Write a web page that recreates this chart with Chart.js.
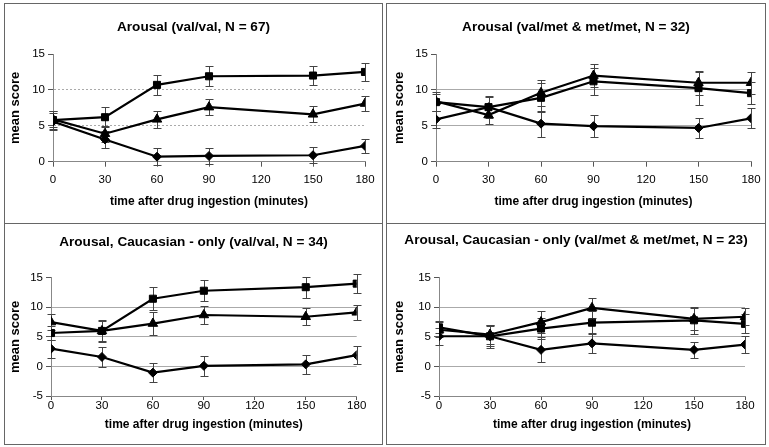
<!DOCTYPE html>
<html>
<head>
<meta charset="utf-8">
<script src="https://cdn.jsdelivr.net/npm/chart.js@4.4.0/dist/chart.umd.min.js"></script>
<style>
  html, body { margin: 0; padding: 0; background: #fff; }
  body { width: 769px; height: 447px; position: relative; overflow: hidden; }
  .panel { position: absolute; box-sizing: border-box; border: 1px solid #666; background: #fff; }
  .panel canvas { display: block; }
</style>
</head>
<body>
<div class="panel" style="left:4px;top:3px;width:379px;height:221px"><canvas id="c1" width="377" height="219"></canvas></div>
<div class="panel" style="left:386px;top:3px;width:380px;height:221px"><canvas id="c2" width="378" height="219"></canvas></div>
<div class="panel" style="left:4px;top:223px;width:379px;height:222px"><canvas id="c3" width="377" height="220"></canvas></div>
<div class="panel" style="left:386px;top:223px;width:380px;height:222px"><canvas id="c4" width="378" height="220"></canvas></div>
<script>
// time points (minutes after ingestion)
const minutes = [0, 30, 60, 90, 150, 180];
const yTicksTop = [0, 5, 10, 15];
const yTicksBottom = [-5, 0, 5, 10, 15];

const titles = [
  "Arousal (val/val, N = 67)",
  "Arousal (val/met & met/met, N = 32)",
  "Arousal, Caucasian - only (val/val, N = 34)",
  "Arousal, Caucasian - only (val/met & met/met, N = 23)",
];

// panel 1
const p1Square = [5.8, 6.2, 10.7, 11.9, 12.0, 12.5];
const p1SquareErr = [1.2, 1.4, 1.35, 1.4, 1.3, 1.3];
const p1Triangle = [5.9, 3.9, 5.9, 7.6, 6.6, 8.1];
const p1TriangleErr = [1.1, 1.1, 1.2, 1.1, 1.1, 1.0];
const p1Diamond = [5.6, 3.1, 0.7, 0.8, 0.9, 2.2];
const p1DiamondErr = [1.2, 1.2, 1.15, 1.1, 1.15, 1.0];

// panel 2
const p2Square = [8.3, 7.6, 8.9, 11.2, 10.25, 9.55];
const p2SquareErr = [1.2, 1.4, 2.0, 1.9, 2.3, 1.5];
const p2Triangle = [8.4, 6.5, 9.6, 12.0, 11.0, 11.0];
const p2TriangleErr = [1.3, 1.3, 1.8, 1.6, 1.7, 1.55];
const p2Diamond = [5.9, 7.6, 5.3, 4.95, 4.7, 6.05];
const p2DiamondErr = [1.2, 1.5, 1.8, 1.5, 1.4, 1.4];

// panel 3
const p3Square = [5.65, 6.0, 11.45, 12.8, 13.4, 14.0];
const p3SquareErr = [1.2, 1.8, 1.95, 1.8, 1.8, 1.6];
const p3Triangle = [7.5, 6.0, 7.25, 8.7, 8.4, 9.15];
const p3TriangleErr = [1.3, 1.7, 1.9, 1.6, 1.4, 1.3];
const p3Diamond = [3.0, 1.6, -1.05, 0.1, 0.35, 1.9];
const p3DiamondErr = [1.5, 1.75, 1.6, 1.65, 1.55, 1.5];

// panel 4
const p4Square = [6.6, 5.1, 6.4, 7.4, 7.8, 7.2];
const p4SquareErr = [1.0, 1.9, 1.8, 2.0, 2.3, 1.6];
const p4Triangle = [6.2, 5.4, 7.5, 9.9, 8.05, 8.4];
const p4TriangleErr = [1.3, 1.6, 1.9, 1.65, 1.9, 1.4];
const p4Diamond = [5.1, 5.1, 2.8, 3.9, 2.8, 3.7];
const p4DiamondErr = [1.4, 1.7, 2.1, 1.7, 1.3, 1.5];

const FONT = "'Liberation Sans', Arial, sans-serif";

// vertical error bars with caps, drawn under the lines
const errorBars = {
  id: "errorBars",
  beforeDatasetsDraw(chart) {
    const { ctx } = chart;
    const y = chart.scales.y;
    ctx.save();
    ctx.strokeStyle = "#444";
    ctx.lineWidth = 1;
    chart.data.datasets.forEach((ds, i) => {
      chart.getDatasetMeta(i).data.forEach((pt, j) => {
        const v = ds.data[j].y;
        const e = ds.err[j];
        const top = Math.round(y.getPixelForValue(v + e)) + 0.5;
        const bot = Math.round(y.getPixelForValue(v - e)) + 0.5;
        const x = Math.round(pt.x) + 0.5;
        ctx.beginPath();
        ctx.moveTo(x, top); ctx.lineTo(x, bot);
        ctx.moveTo(x - 4, top); ctx.lineTo(x + 4, top);
        ctx.moveTo(x - 4, bot); ctx.lineTo(x + 4, bot);
        ctx.stroke();
      });
    });
    ctx.restore();
  },
};

function drawPanel(id, p) {
  const yMin = p.yTicks[0];
  const yMax = p.yTicks[p.yTicks.length - 1];
  const series = [
    { vals: p.square, err: p.squareErr, style: "rect", r: 5 },
    { vals: p.triangle, err: p.triangleErr, style: "triangle", r: 5.5 },
    { vals: p.diamond, err: p.diamondErr, style: "rectRot", r: 4.5 },
  ];

  new Chart(document.getElementById(id), {
    type: "line",
    data: {
      datasets: series.map((s) => ({
        data: s.vals.map((v, i) => ({ x: minutes[i], y: v })),
        err: s.err,
        borderColor: "#000",
        backgroundColor: "#000",
        borderWidth: 2.2,
        pointStyle: s.style,
        pointRadius: s.r,
        pointBorderWidth: 1,
        tension: 0,
      })),
    },
    options: {
      responsive: false,
      animation: false,
      devicePixelRatio: 1,
      layout: { padding: 0 },
      plugins: {
        legend: { display: false },
        tooltip: { enabled: false },
        title: {
          display: true,
          text: p.title,
          color: "#000",
          font: { family: FONT, size: 13.6, weight: "bold" },
          padding: { top: p.titleTop, bottom: p.titleBottom },
        },
      },
      scales: {
        x: {
          type: "linear",
          min: 0,
          max: 180,
          ticks: {
            stepSize: 30,
            color: "#000",
            font: { family: FONT, size: 11.5, lineHeight: 1 },
            padding: p.xTickPad,
            maxRotation: 0,
            autoSkip: false,
          },
          grid: { drawOnChartArea: false, tickLength: p.xTickLen, tickColor: "#555" },
          border: { color: "#888", width: 1 },
          title: {
            display: true,
            text: "time after drug ingestion (minutes)",
            color: "#000",
            font: { family: FONT, size: 12, weight: "bold" },
            padding: { top: 0, bottom: p.xTitleBottom },
          },
          afterFit(s) {
            s.height = p.xHeight;
            s.paddingRight = p.rightPad;
          },
        },
        y: {
          min: yMin,
          max: yMax,
          ticks: {
            stepSize: 5,
            color: "#000",
            font: { family: FONT, size: 11.5, lineHeight: 1 },
            padding: 3,
          },
          grid: {
            color: (c) => (c.tick && c.tick.value === yMax ? "rgba(0,0,0,0)" : p.gridColor),
            tickColor: "#555",
            tickLength: 5,
            tickBorderDash: [],
          },
          border: { color: "#888", width: 1, dash: p.gridDash },
          title: {
            display: true,
            text: "mean score",
            color: "#000",
            font: { family: FONT, size: 13, weight: "bold" },
            padding: { top: p.yTitleTop, bottom: 0 },
          },
          afterFit(s) {
            s.width = p.yWidth;
          },
        },
      },
    },
    plugins: [errorBars],
  });
}

drawPanel("c1", {
  title: titles[0], yTicks: yTicksTop,
  square: p1Square, squareErr: p1SquareErr,
  triangle: p1Triangle, triangleErr: p1TriangleErr,
  diamond: p1Diamond, diamondErr: p1DiamondErr,
  titleTop: 15.2, titleBottom: 18.5, yWidth: 48, xHeight: 61.3, rightPad: 17,
  xTickLen: 5, xTickPad: 7.6, xTitleBottom: 13.8, yTitleTop: 2.2,
  gridColor: "#aaa", gridDash: [2, 2],
});

drawPanel("c2", {
  title: titles[1], yTicks: yTicksTop,
  square: p2Square, squareErr: p2SquareErr,
  triangle: p2Triangle, triangleErr: p2TriangleErr,
  diamond: p2Diamond, diamondErr: p2DiamondErr,
  titleTop: 15.2, titleBottom: 18.5, yWidth: 49, xHeight: 61.3, rightPad: 14,
  xTickLen: 5, xTickPad: 7.6, xTitleBottom: 13.8, yTitleTop: 4.2,
  gridColor: "#aaa", gridDash: [],
});

drawPanel("c3", {
  title: titles[2], yTicks: yTicksBottom,
  square: p3Square, squareErr: p3SquareErr,
  triangle: p3Triangle, triangleErr: p3TriangleErr,
  diamond: p3Diamond, diamondErr: p3DiamondErr,
  titleTop: 10.2, titleBottom: 27.2, yWidth: 46, xHeight: 48, rightPad: 25.3,
  xTickLen: 4, xTickPad: 0, xTitleBottom: 12.6, yTitleTop: 2.2,
  gridColor: "#aaa", gridDash: [],
});

drawPanel("c4", {
  title: titles[3], yTicks: yTicksBottom,
  square: p4Square, squareErr: p4SquareErr,
  triangle: p4Triangle, triangleErr: p4TriangleErr,
  diamond: p4Diamond, diamondErr: p4DiamondErr,
  titleTop: 8.2, titleBottom: 29.2, yWidth: 52, xHeight: 48, rightPad: 20,
  xTickLen: 4, xTickPad: 0, xTitleBottom: 12.6, yTitleTop: 4.2,
  gridColor: "#aaa", gridDash: [],
});
</script>
</body>
</html>
